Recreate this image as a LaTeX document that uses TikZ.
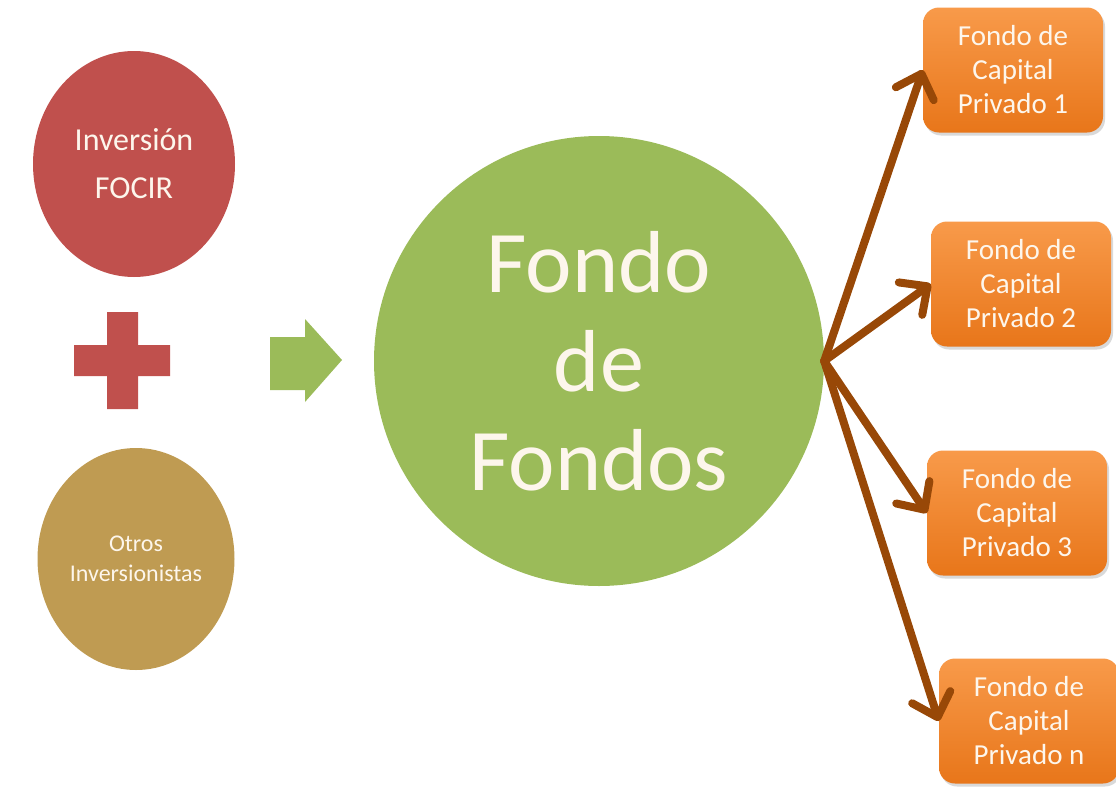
\documentclass[tikz,border=0pt]{standalone}
\usepackage{fontspec}
\setmainfont{Carlito}
\usetikzlibrary{shapes.geometric,arrows.meta,shadows}

\definecolor{rojoFocir}{HTML}{C0504D}
\definecolor{oroOtros}{HTML}{BF9B52}
\definecolor{verdeFondo}{HTML}{9BBB59}
\definecolor{naranjaTop}{HTML}{F89A4A}
\definecolor{naranjaBot}{HTML}{E8761A}
\definecolor{cafeFlecha}{HTML}{984807}
\definecolor{cremaTexto}{HTML}{FDF6EC}

\begin{document}
\begin{tikzpicture}[x=1pt,y=-1pt,
		burbuja/.style={ellipse,inner sep=0pt,text=cremaTexto,align=center},
		fcp/.style={rounded corners=16pt,minimum width=180pt,minimum height=125pt,inner sep=0pt,
			top color=naranjaTop,bottom color=naranjaBot,text=cremaTexto,align=center,
			font=\fontsize{29}{34}\selectfont,
			drop shadow={shadow xshift=2pt,shadow yshift=-3pt,opacity=0.3}},
		flecha/.style={line width=8pt,cafeFlecha,line cap=round,
			-{Straight Barb[length=21pt,width=40pt,round]}}]
		\useasboundingbox (0,0) rectangle (1116,787);
		\node[burbuja,fill=rojoFocir,minimum width=202pt,minimum height=226pt,font=\fontsize{32}{48}\selectfont] (InvFocir) at (134,164) {Inversión\\FOCIR};
		\node[burbuja,fill=oroOtros,minimum width=197pt,minimum height=222pt,font=\fontsize{24}{30}\selectfont] (OtrosInv) at (136,559) {Otros\\Inversionistas};
		\fill[rojoFocir] (107,312) -- (138,312) -- (138,345) -- (170,345) -- (170,376) -- (138,376) -- (138,409) -- (107,409) -- (107,376) -- (74,376) -- (74,345) -- (107,345) -- cycle;
		\fill[verdeFondo] (270,337) -- (305,337) -- (305,319) -- (342,360) -- (305,402) -- (305,390) -- (270,390) -- cycle;
		\node[circle,fill=verdeFondo,minimum size=450pt,inner sep=0pt,text=cremaTexto,align=center,font=\fontsize{88}{99}\selectfont] (FondoFondos) at (599,361) {Fondo\\de\\Fondos};
		\node[fcp] (Fcp1) at (1013,70) {Fondo de\\Capital\\Privado 1};
		\node[fcp] (Fcp2) at (1021,284) {Fondo de\\Capital\\Privado 2};
		\node[fcp] (Fcp3) at (1017,513) {Fondo de\\Capital\\Privado 3};
		\node[fcp] (FcpN) at (1029,721) {Fondo de\\Capital\\Privado n};
		\draw[flecha] (FondoFondos.east) -- (Fcp1.west);
		\draw[flecha] (FondoFondos.east) -- (Fcp2.west);
		\draw[flecha] (FondoFondos.east) -- (Fcp3.west);
		\draw[flecha] (FondoFondos.east) -- (FcpN.west);
\end{tikzpicture}
\end{document}
